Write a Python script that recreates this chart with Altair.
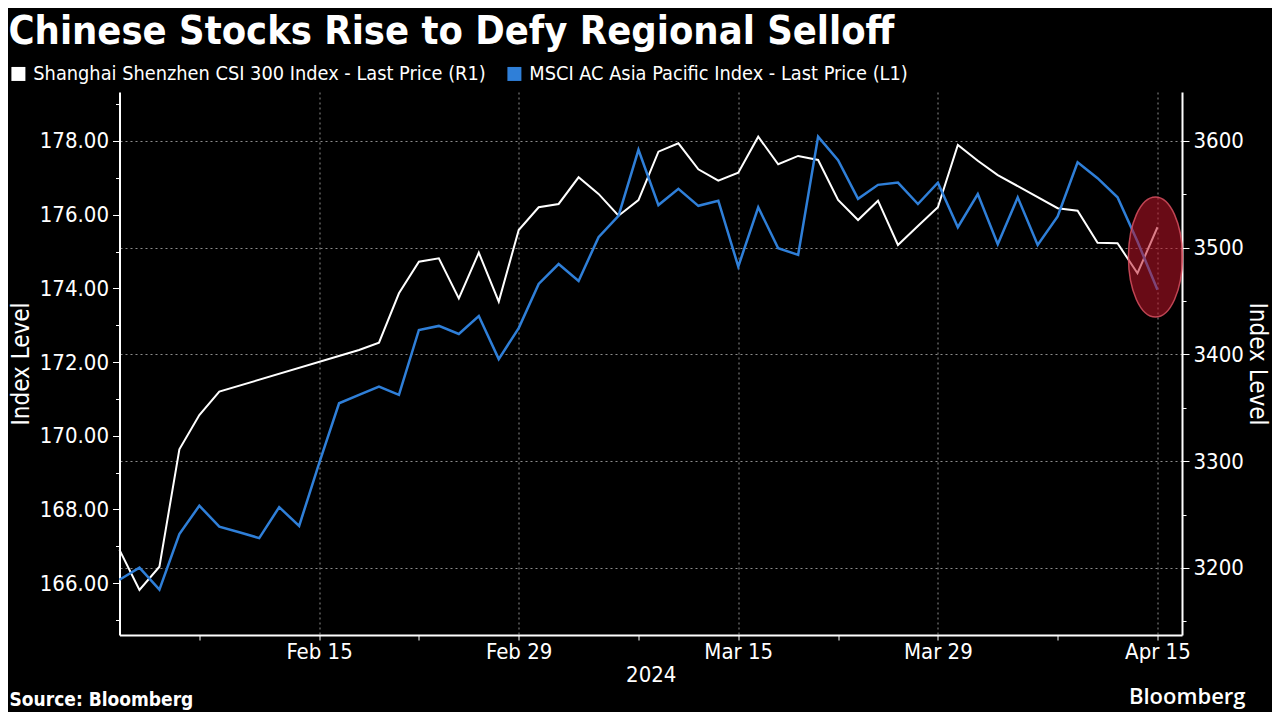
import altair as alt
import pandas as pd

# ---------------- data ----------------
title_text = "Chinese Stocks Rise to Defy Regional Selloff"
series_names = [
    "Shanghai Shenzhen CSI 300 Index - Last Price (R1)",
    "MSCI AC Asia Pacific Index - Last Price (L1)",
]
series_colors = ["#ffffff", "#2f7fd8"]

# weekday axis (Bloomberg drops weekends)
dates = pd.bdate_range("2024-02-01", "2024-04-15")

csi300 = [3216.9, 3179.4, 3201.2, 3311.2, 3343.3, 3365.2,
          None, None, None, None, None, None,
          3404.2, 3411.1, 3457.3, 3486.9, 3490.1, 3452.6, 3495.4, 3449.5,
          3516.6, 3537.9, 3541.0, 3566.0, 3550.4, 3530.0, 3544.7, 3590.0,
          3597.8, 3573.5, 3562.8, 3570.3, 3604.0, 3578.2, 3586.0, 3582.2,
          3544.7, 3526.0, 3544.1, 3502.6, 3520.4, 3537.9, 3596.3, 3581.5,
          3568.1, None, None, 3537.0, 3534.7, 3504.7, 3504.2, 3476.1, 3519.2]

msci_apac = [166.09, 166.42, 165.82, 167.33, 168.10, 167.53, 167.38, 167.22,
             168.06, 167.55, 169.25, 170.88, 171.11, 171.33, 171.11, 172.87,
             172.98, 172.76, 173.25, 172.08, 172.92, 174.12, 174.66, 174.20,
             175.39, 175.97, 177.76, 176.26, 176.70, 176.24, 176.38, 174.59,
             176.20, 175.09, 174.91, 178.12, 177.48, 176.43, 176.81, 176.87,
             176.29, 176.87, 175.66, 176.56, 175.20, 176.47, 175.18, 175.95,
             177.42, 176.99, 176.47, 175.27, 173.96]

x_ticks = [4, 10, 15, 20, 26, 31, 36, 41, 47, 52]
x_labeled = [10, 20, 31, 41, 52]
left_ticks = list(range(165, 180))
right_ticks = list(range(3150, 3651, 50))
left_domain = [164.59, 179.33]
right_domain = [3137.2, 3645.9]
x_domain = [0, 53.23]

highlight_idx = [51.9]
highlight_level = [174.85]

year_label = "2024"
axis_title = "Index Level"
source_text = "Source: Bloomberg"
brand_text = "Bloomberg"

FONT = "DejaVu Sans Condensed"
GRID = "#8c8c8c"

# ---------------- frames ----------------
df = pd.DataFrame({
    "i": list(range(len(dates))),
    "date": [d.strftime("%Y-%m-%d") for d in dates],
    "csi": csi300,
    "msci": msci_apac,
})
df_csi = df.dropna(subset=["csi"]).assign(series=series_names[0])
df_msci = df.assign(series=series_names[1])
df_hl = pd.DataFrame({"i": highlight_idx, "v": highlight_level})

label_expr = "".join(
    f"datum.value == {t} ? '{dates[t].strftime('%b %d')}' : " for t in x_labeled
) + "''"
lab_list = ",".join(str(t) for t in x_labeled)

color = alt.Color(
    "series:N",
    scale=alt.Scale(domain=series_names, range=series_colors),
    legend=alt.Legend(
        title=None, orient="none", legendX=-111, legendY=-28,
        direction="horizontal", symbolType="square", symbolSize=36,
        symbolStrokeWidth=8, symbolOpacity=1, labelFontSize=19.8,
        labelColor="white", labelFont=FONT, labelLimit=700,
        columnPadding=8, labelOffset=5, padding=0,
    ),
)

x_enc = alt.X(
    "i:Q",
    scale=alt.Scale(domain=x_domain, nice=False, zero=False),
    axis=alt.Axis(
        values=x_ticks, labelExpr=label_expr, title=year_label,
        grid=True, gridDash=[2, 3], gridColor=GRID, gridWidth=1,
        gridOpacity={"condition": {"test": f"indexof([{lab_list}], datum.value) >= 0", "value": 1}, "value": 0},
        tickColor="white", tickSize=5, domainColor="white", domainWidth=2,
        labelColor="white", labelFontSize=22, labelFont=FONT, labelPadding=1,
        labelFlush=False, titleColor="white", titleFontSize=22, titleFont=FONT,
        titleFontWeight="normal", titlePadding=2,
    ),
)

white_line = alt.Chart(df_csi).mark_line(strokeWidth=2).encode(
    x=x_enc,
    y=alt.Y(
        "csi:Q",
        scale=alt.Scale(domain=right_domain, nice=False, zero=False),
        axis=alt.Axis(
            orient="right", values=right_ticks,
            labelExpr="datum.value % 100 == 0 ? format(datum.value, 'd') : ''",
            grid=True, gridDash=[2, 3], gridColor=GRID, gridWidth=1,
            gridOpacity={"condition": {"test": "datum.value % 100 == 0", "value": 1}, "value": 0},
            tickColor="white",
            tickSize={"condition": {"test": "datum.value % 100 == 0", "value": 7}, "value": 4},
            domainColor="white", domainWidth=2,
            labelColor="white", labelFontSize=22, labelFont=FONT, labelPadding=4,
            title=axis_title, titleColor="white", titleFontSize=24, titleFont=FONT,
            titleFontWeight="normal", titlePadding=1,
        ),
    ),
    color=color,
)

blue_line = alt.Chart(df_msci).mark_line(strokeWidth=2.5).encode(
    x=x_enc,
    y=alt.Y(
        "msci:Q",
        scale=alt.Scale(domain=left_domain, nice=False, zero=False),
        axis=alt.Axis(
            orient="left", values=left_ticks,
            labelExpr="datum.value % 2 == 0 ? format(datum.value, '.2f') : ''",
            grid=False,
            tickColor="white",
            tickSize={"condition": {"test": "datum.value % 2 == 0", "value": 7}, "value": 4},
            domainColor="white", domainWidth=2,
            labelColor="white", labelFontSize=22, labelFont=FONT, labelPadding=4,
            title=axis_title, titleColor="white", titleFontSize=24, titleFont=FONT,
            titleFontWeight="normal", titlePadding=6,
        ),
    ),
    color=color,
)

ellipse_path = "M0,-1 A0.45,1 0 1,1 0,1 A0.45,1 0 1,1 0,-1 Z"
ellipse = alt.Chart(df_hl).mark_point(
    shape=ellipse_path, size=14400, filled=True, fill="#c01428", fillOpacity=0.55,
    stroke="#d85060", strokeOpacity=0.85, strokeWidth=1.5, opacity=1,
).encode(
    x=alt.X("i:Q"),
    y=alt.Y("v:Q", scale=alt.Scale(domain=left_domain, nice=False, zero=False), axis=None),
)

src = alt.Chart(pd.DataFrame({"t": [source_text]})).mark_text(
    align="left", baseline="middle", font=FONT, fontSize=19, fontWeight="bold", color="white",
).encode(text="t:N", x=alt.value(-110), y=alt.value(608))

brand = alt.Chart(pd.DataFrame({"t": [brand_text]})).mark_text(
    align="right", baseline="middle", font="Open Sans", fontSize=22, fontWeight=600, color="white",
).encode(text="t:N", x=alt.value(1126), y=alt.value(605))

chart = alt.layer(white_line, blue_line, ellipse, src, brand).resolve_scale(
    y="independent"
).properties(
    width=1062.5,
    height=543,
    autosize=alt.AutoSizeParams(type="none"),
    padding={"left": 111.5, "top": 84, "right": 90, "bottom": 77},
    title=alt.TitleParams(
        text=title_text, anchor="start", frame="group", dx=-111, dy=-2, fontSize=39.5,
        font=FONT, fontWeight="bold", color="white", offset=10,
    ),
).configure(background="black").configure_view(stroke=None)

chart.save("out.html", embed_options={"renderer": "svg", "actions": False})
